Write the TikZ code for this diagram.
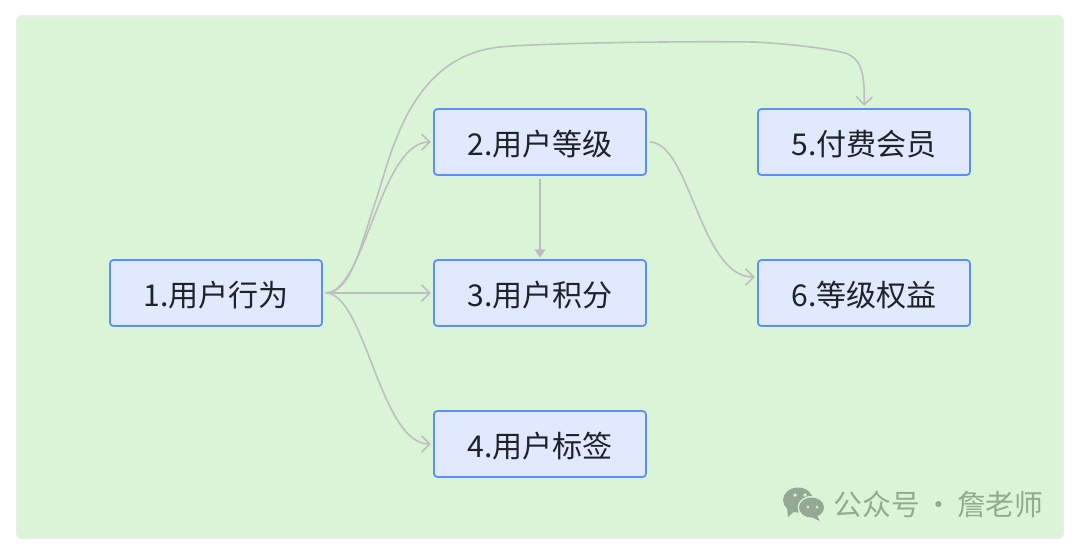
\documentclass[tikz,border=0pt]{standalone}
\usepackage{fontspec}
\setmainfont{Noto Sans CJK SC}
\usetikzlibrary{arrows.meta}

\definecolor{panelgreen}{HTML}{DAF5D5}
\definecolor{panelline}{HTML}{E9EEE8}
\definecolor{boxfill}{HTML}{E0E9FE}
\definecolor{boxline}{HTML}{5B8FF9}
\definecolor{edgegray}{HTML}{BEBEC2}
\definecolor{inkdark}{HTML}{1F2329}
\definecolor{markgray}{HTML}{94A893}

\tikzset{
	stepbox/.style={draw=boxline, fill=boxfill, line width=0.5pt, rounded corners=1pt,
		minimum width=2.12cm, minimum height=0.66cm, inner sep=0pt, outer sep=0pt,
		text height=8.6pt, text depth=1pt,
		text=inkdark, font=\fontsize{8.55pt}{10pt}\selectfont},
	flow/.style={draw=edgegray, line width=0.45pt, shorten <=1pt, shorten >=0.9pt},
	wechat/.style={fill=markgray, draw=none}
}

\begin{document}
\begin{tikzpicture}[x=0.01cm, y=-0.01cm, arrows={-{Straight Barb[length=2.3pt,width=4.6pt]}}]
	\useasboundingbox (0,0) rectangle (1077,547);
	\fill[panelgreen, draw=panelline, line width=0.5pt, rounded corners=1.2pt] (17,16) rectangle (1063,538);

	\node[stepbox] (U1) at (216,293) {1.用户行为};
	\node[stepbox] (U2) at (540,142) {2.用户等级};
	\node[stepbox] (U3) at (540,293) {3.用户积分};
	\node[stepbox] (U4) at (540,444) {4.用户标签};
	\node[stepbox] (U5) at (864,142) {5.付费会员};
	\node[stepbox] (U6) at (864,293) {6.等级权益};

	\draw[flow] (U1.east) .. controls (365,293) and (380,142) .. (U2.west);
	\draw[flow] (U1) -- (U3);
	\draw[flow] (U1.east) .. controls (365,293) and (380,444) .. (U4.west);
	\draw[flow] (U1.east) .. controls (352,293) and (362,240) .. (377,197)
		.. controls (392,150) and (412,56) .. (500,47)
		.. controls (540,43) and (680,41) .. (755,42)
		.. controls (790,44) and (825,48) .. (845,53)
		.. controls (860,58) and (865,70) .. (U5.north);
	\draw[flow] (U2.east) .. controls (690,142) and (700,277) .. ([yshift=4.55pt]U6.west);
	\draw[flow, arrows={-{Triangle[length=2.4pt,width=3pt]}}, shorten <=1pt, shorten >=0.6pt] (U2) -- (U3);

	% watermark
	\fill[wechat] (798,500) ellipse (15 and 12.5);
	\fill[wechat] (787,508) -- (788,517) -- (796,510) -- cycle;
	\fill[panelgreen] (811.5,507.5) ellipse (14 and 11.5);
	\fill[wechat] (811.5,507.5) ellipse (12.5 and 10);
	\fill[wechat] (816,514) -- (820,521) -- (809,516) -- cycle;
	\fill[panelgreen] (795,495) circle (1.8);
	\fill[panelgreen] (805,495) circle (1.8);
	\fill[panelgreen] (808,507) circle (1.5);
	\fill[panelgreen] (817,507) circle (1.5);
	\node[text=markgray, font=\fontsize{8.2pt}{10pt}\selectfont, inner sep=0pt, anchor=west] (mark) at (833,504) {公众号\hspace{-0.7pt} · \hspace{-0.7pt}詹老师};
\end{tikzpicture}
\end{document}
